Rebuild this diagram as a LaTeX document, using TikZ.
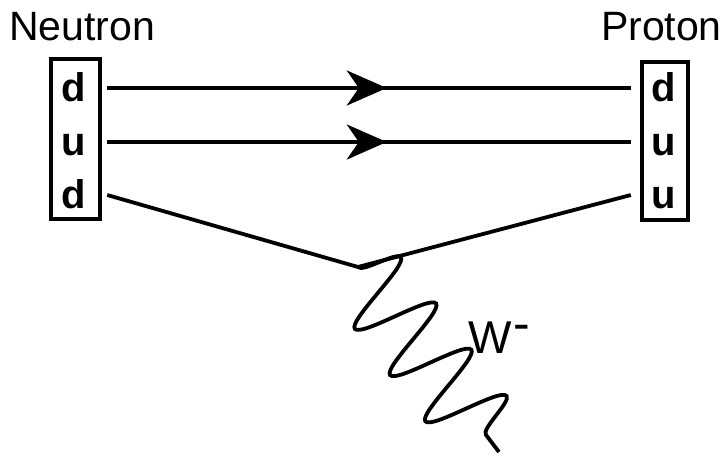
\documentclass[tikz,border=0pt]{standalone}
\usepackage{fontspec}
\setmainfont{Liberation Sans}
\usetikzlibrary{arrows.meta,decorations.pathmorphing,decorations.markings}

\begin{document}
\begin{tikzpicture}[x=1pt,y=-1pt,
  hadname/.style={font=\fontsize{41}{48}\selectfont,inner sep=0pt},
  hadron/.style={draw,line width=4pt,minimum width=49pt,minimum height=160pt,inner sep=0pt},
  quark/.style={font=\fontsize{40}{46}\selectfont\bfseries,minimum width=66pt,text height=27pt,text depth=0pt,inner sep=0pt},
  fermion/.style={line width=3.8pt},
  flow/.style={fermion,postaction={decorate},decoration={markings,mark=at position 0.534 with {\arrow{Stealth[length=40pt,width=35pt,inset=12pt]}}}},
  boson/.style={line width=3.8pt,decorate,decoration={snake,segment length=58.15pt,amplitude=40pt}}
]
\useasboundingbox (0,0) rectangle (723,463);
% hadrons
\node[hadname,anchor=base west] (nlab) at (9,40) {Neutron};
\node[hadname,anchor=base east] (plab) at (722,40) {Proton};
\node[hadron] (nbox) at (75.5,139) {};
\node[hadron,minimum width=46pt,minimum height=158pt] (pbox) at (665,141) {};
% quarks
\node[quark] (nq1) at (74,88)  {d};
\node[quark] (nq2) at (74,142) {u};
\node[quark] (nq3) at (74,195) {d};
\node[quark] (pq1) at (664,88)  {d};
\node[quark] (pq2) at (664,142) {u};
\node[quark] (pq3) at (664,195) {u};
% lines
\draw[flow] (nq1.east) -- (pq1.west);
\draw[flow] (nq2.east) -- (pq2.west);
\coordinate (vtx) at (358,267);
\coordinate (wend) at (499,452);
\draw[fermion] (nq3.east) -- (vtx) -- (pq3.west);
\draw[boson] (vtx) -- (wend);
\node[hadname,font=\fontsize{46}{52}\selectfont,anchor=base west] (wlab) at (468,353) {W\kern2pt\raisebox{13pt}{\fontsize{50}{50}\selectfont -}};
\end{tikzpicture}
\end{document}
